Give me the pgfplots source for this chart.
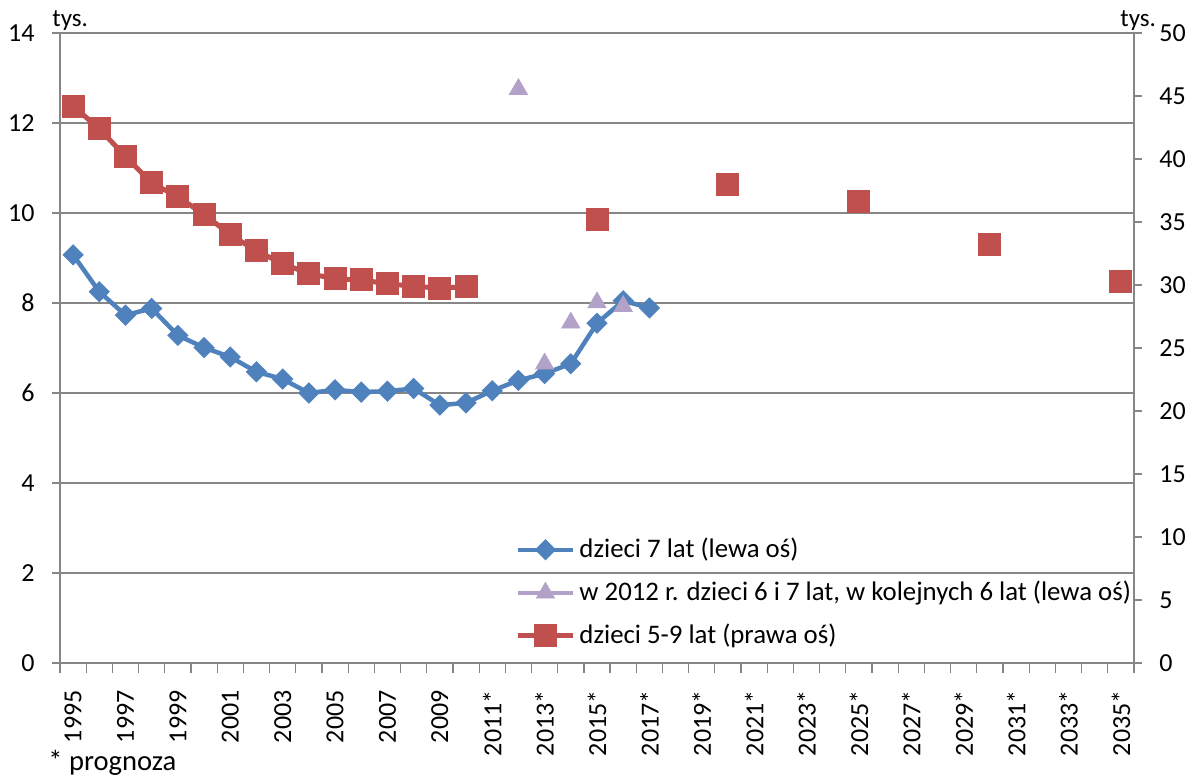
\documentclass[border=0pt]{standalone}
\usepackage{pgfplots}
\pgfplotsset{compat=1.18}
\usepackage{fontspec}
\setmainfont{Carlito}
\definecolor{xblue}{RGB}{79,129,189}
\definecolor{xred}{RGB}{192,80,77}
\definecolor{xpurple}{RGB}{179,162,199}
\definecolor{xgrid}{RGB}{134,134,134}
\begin{document}
\fontsize{13}{15}\selectfont
\begin{tikzpicture}
\path[use as bounding box] (-30pt,-57.5pt) rectangle (568pt,331.5pt);
\pgfplotsset{
  myaxis/.style={
    scale only axis, width=537pt, height=315pt,
    xmin=1994.5, xmax=2035.5,
    tick align=outside,
    axis line style={xgrid, line width=0.6pt},
    every tick/.style={xgrid, line width=0.6pt},
    major tick length=4pt,
    minor tick length=5pt,
    tick label style={font=\fontsize{13}{15}\selectfont, text=black},
    /pgf/number format/assume math mode=true,
  }
}
\begin{axis}[myaxis,
  ymin=0, ymax=14,
  axis x line*=bottom, axis y line*=left,
  xtick={1995,1997,...,2035},
  xticklabels={1995,1997,1999,2001,2003,2005,2007,2009,2011*,2013*,2015*,2017*,2019*,2021*,2023*,2025*,2027*,2029*,2031*,2033*,2035*},
  major x tick style={draw=none},
  minor xtick={1994.5,1995.5,...,2035.5},
  xticklabel style={rotate=90, anchor=east, inner sep=0pt},
  xticklabel shift=9.5pt,
  ytick={0,2,...,14},
  yticklabel style={inner sep=0pt},
  yticklabel shift=8.5pt,
  ymajorgrids,
  grid style={xgrid, line width=0.6pt},
  legend style={at={(axis description cs:0.4237,0.2054)}, anchor=north west,
    draw=none, fill=none, inner sep=0pt, row sep=5.8pt,
    font=\fontsize{13.4}{15.5}\selectfont, cells={anchor=west},
    nodes={inner sep=2pt}},
  legend image code/.code={\draw[mark repeat=2,mark phase=2,#1] plot coordinates {(0pt,0pt) (13.75pt,0pt) (27.5pt,0pt)};},
]
\addplot[xblue, line width=2.25pt, mark=square*, mark size=2.65pt, mark options={rotate=45, solid}] table {
x y
1995 9.07
1996 8.25
1997 7.73
1998 7.88
1999 7.28
2000 7.01
2001 6.80
2002 6.47
2003 6.31
2004 6.00
2005 6.07
2006 6.02
2007 6.04
2008 6.10
2009 5.73
2010 5.78
2011 6.05
2012 6.28
2013 6.43
2014 6.65
2015 7.55
2016 8.05
2017 7.89
};
\addlegendentry{dzieci 7 lat (lewa oś)}
\addplot[draw=none, mark=triangle*, mark size=5.2pt, mark options={fill=xpurple, draw=xpurple},
  legend image code/.code={\draw[xpurple, line width=2.25pt] (0pt,0pt) -- (27.5pt,0pt);
    \draw[xpurple, fill=xpurple] plot[mark=triangle*, mark size=5.2pt] coordinates {(13.75pt,0pt)};}] table {
x y
2012 12.75
2013 6.65
2014 7.56
2015 8.01
2016 7.93
};
\addlegendentry{w 2012 r. dzieci 6 i 7 lat, w kolejnych 6 lat (lewa oś)}
\addlegendimage{xred, line width=2.5pt, mark=square*, mark size=4.5pt}
\addlegendentry{dzieci 5-9 lat (prawa oś)}
\end{axis}
\begin{axis}[myaxis,
  ymin=0, ymax=50,
  axis y line*=right, axis x line=none,
  ytick={0,5,...,50},
  yticklabel style={inner sep=0pt},
  yticklabel shift=8.5pt,
  unbounded coords=jump,
]
\addplot[xred, line width=2.5pt, mark=square*, mark size=4.5pt] table {
x y
1995 44.2
1996 42.4
1997 40.2
1998 38.1
1999 37.0
2000 35.6
2001 34.0
2002 32.7
2003 31.7
2004 30.9
2005 30.5
2006 30.4
2007 30.1
2008 29.9
2009 29.75
2010 29.87
2011 nan
2015 35.2
2016 nan
2020 38.0
2021 nan
2025 36.6
2026 nan
2030 33.2
2031 nan
2035 30.3
};
\end{axis}
\node[anchor=base west, inner sep=0pt, font=\fontsize{12.5}{14}\selectfont] at (-4pt,318pt) {tys.};
\node[anchor=base west, inner sep=0pt, font=\fontsize{12.5}{14}\selectfont] at (530pt,318pt) {tys.};
\node[anchor=base west, inner sep=0pt, font=\fontsize{14.3}{16}\selectfont] at (-6pt,-53.5pt) {* prognoza};
\end{tikzpicture}
\end{document}
